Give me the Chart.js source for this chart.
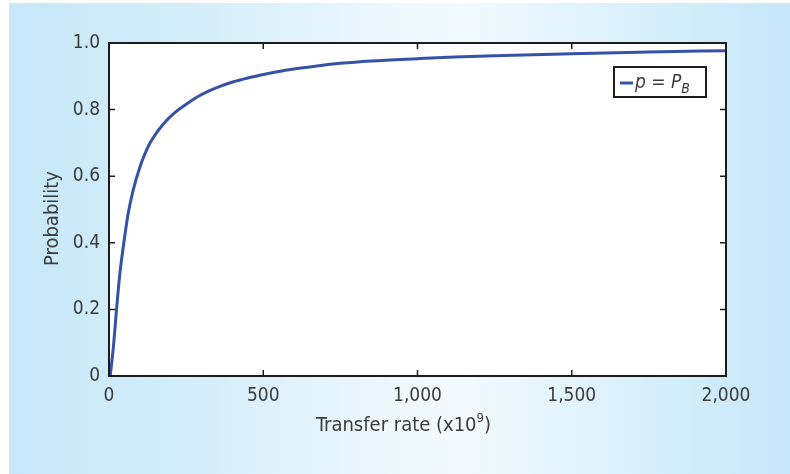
<!DOCTYPE html>
<html lang="en">
<head>
  <meta charset="UTF-8">
  <title>Probability vs transfer rate</title>
  <style>
    html, body { margin: 0; padding: 0; background: #ffffff; }
    body { width: 790px; height: 474px; position: relative; overflow: hidden; }
    .panel {
      position: absolute; left: 9px; top: 3px; right: 0; bottom: 0;
      background: linear-gradient(to right, #c6e8f8 0%, #d6eefa 25%, #eef8fd 50%, #f2fafd 58%, #daf0fb 80%, #c5e7f8 100%);
    }
    canvas { position: absolute; left: 0; top: 0; }
  </style>
</head>
<body>
  <div class="panel"></div>
  <canvas id="probChart" width="790" height="474"></canvas>
  <script src="https://cdn.jsdelivr.net/npm/chart.js"></script>
  <script>
    // values
    const transferRate = [4, 14, 25, 35, 46, 62, 78, 100, 115, 132, 148, 165, 185, 207, 233, 261, 290, 326, 360, 401, 450, 509, 560, 616, 680, 750, 850, 1000, 1120, 1250, 1500, 1750, 2000];
    const probability = [0, 0.085, 0.206, 0.306, 0.386, 0.487, 0.557, 0.627, 0.664, 0.698, 0.722, 0.744, 0.766, 0.786, 0.805, 0.823, 0.840, 0.857, 0.870, 0.883, 0.895, 0.907, 0.916, 0.924, 0.932, 0.939, 0.946, 0.953, 0.958, 0.962, 0.968, 0.973, 0.977];
    const xTicks = [0, 500, 1000, 1500, 2000];
    const yTicks = [0, 0.2, 0.4, 0.6, 0.8, 1.0];

    const FONT = '"Liberation Sans Narrow", "DejaVu Sans Condensed", sans-serif';
    const TEXT = '#3c3c3c';
    const LINE = '#3452a6';

    const framePlugin = {
      id: 'frame',
      beforeDraw(chart) {
        const { ctx, chartArea: a } = chart;
        ctx.save();
        ctx.fillStyle = '#ffffff';
        ctx.fillRect(a.left, a.top, a.right - a.left, a.bottom - a.top);
        ctx.restore();
      },
      afterDraw(chart) {
        const { ctx, chartArea: a, scales } = chart;
        ctx.save();
        ctx.strokeStyle = '#1c1c1c';
        ctx.lineWidth = 2;
        ctx.strokeRect(a.left, a.top, a.right - a.left, a.bottom - a.top);
        // inward ticks on all four sides
        ctx.lineWidth = 1.5;
        ctx.beginPath();
        xTicks.forEach(v => {
          const px = scales.x.getPixelForValue(v);
          ctx.moveTo(px, a.bottom); ctx.lineTo(px, a.bottom - 6);
          ctx.moveTo(px, a.top); ctx.lineTo(px, a.top + 6);
        });
        yTicks.forEach(v => {
          const py = scales.y.getPixelForValue(v);
          ctx.moveTo(a.left, py); ctx.lineTo(a.left + 6, py);
          ctx.moveTo(a.right, py); ctx.lineTo(a.right - 6, py);
        });
        ctx.stroke();

        // legend box
        const bx = a.right - 112, by = a.top + 24, bw = 92, bh = 30;
        ctx.fillStyle = '#ffffff';
        ctx.fillRect(bx, by, bw, bh);
        ctx.strokeStyle = '#1c1c1c';
        ctx.lineWidth = 2;
        ctx.strokeRect(bx, by, bw, bh);
        ctx.strokeStyle = LINE;
        ctx.lineWidth = 3;
        ctx.beginPath();
        ctx.moveTo(bx + 6, by + 16); ctx.lineTo(bx + 19, by + 16);
        ctx.stroke();
        ctx.fillStyle = TEXT;
        ctx.textBaseline = 'alphabetic';
        ctx.textAlign = 'left';
        let tx = bx + 21;
        const base = by + 21;
        ctx.font = 'italic 19px ' + FONT;
        ctx.fillText('p', tx, base); tx += ctx.measureText('p').width;
        ctx.font = '19px ' + FONT;
        ctx.fillText(' = ', tx, base); tx += ctx.measureText(' = ').width;
        ctx.font = 'italic 19px ' + FONT;
        ctx.fillText('P', tx, base); tx += ctx.measureText('P').width;
        ctx.font = 'italic 14px ' + FONT;
        ctx.fillText('B', tx, base + 5);

        // x axis title with superscript
        const t1 = 'Transfer rate (x10', t2 = '9', t3 = ')';
        ctx.font = '20px ' + FONT;
        const w1 = ctx.measureText(t1).width, w3 = ctx.measureText(t3).width;
        ctx.font = '13px ' + FONT;
        const w2 = ctx.measureText(t2).width;
        let sx = (a.left + a.right) / 2 - 14 - (w1 + w2 + w3) / 2;
        const sy = 431;
        ctx.font = '20px ' + FONT;
        ctx.fillText(t1, sx, sy); sx += w1;
        ctx.font = '13px ' + FONT;
        ctx.fillText(t2, sx, sy - 9); sx += w2;
        ctx.font = '20px ' + FONT;
        ctx.fillText(t3, sx, sy);

        // y axis title
        ctx.translate(53, (a.top + a.bottom) / 2 + 9);
        ctx.rotate(-Math.PI / 2);
        ctx.textAlign = 'center';
        ctx.textBaseline = 'middle';
        ctx.font = '20px ' + FONT;
        ctx.fillText('Probability', 0, 0);
        ctx.restore();
      }
    };

    const ctx = document.getElementById('probChart').getContext('2d');
    new Chart(ctx, {
      type: 'line',
      data: {
        datasets: [{
          label: 'p = PB',
          data: transferRate.map((x, i) => ({ x: x, y: probability[i] })),
          borderColor: LINE,
          borderWidth: 3,
          pointRadius: 0,
          fill: false,
          cubicInterpolationMode: 'monotone'
        }]
      },
      options: {
        responsive: false,
        animation: false,
        layout: { padding: { top: 43, right: 64, left: 0, bottom: 0 } },
        plugins: { legend: { display: false }, tooltip: { enabled: false } },
        scales: {
          x: {
            type: 'linear', min: 0, max: 2000,
            afterFit(scale) { scale.height = 98; },
            afterBuildTicks(scale) { scale.ticks = xTicks.map(v => ({ value: v })); },
            grid: { display: false, drawTicks: false },
            border: { display: false },
            ticks: {
              padding: 9, color: TEXT,
              font: { family: FONT, size: 19 },
              callback: v => v.toLocaleString('en-US')
            }
          },
          y: {
            min: 0, max: 1,
            afterFit(scale) { scale.width = 109; },
            afterBuildTicks(scale) { scale.ticks = yTicks.map(v => ({ value: v })); },
            grid: { display: false, drawTicks: false },
            border: { display: false },
            ticks: {
              padding: 9, color: TEXT,
              font: { family: FONT, size: 19 },
              callback: v => v === 0 ? '0' : v.toFixed(1)
            }
          }
        }
      },
      plugins: [framePlugin]
    });
  </script>
</body>
</html>
